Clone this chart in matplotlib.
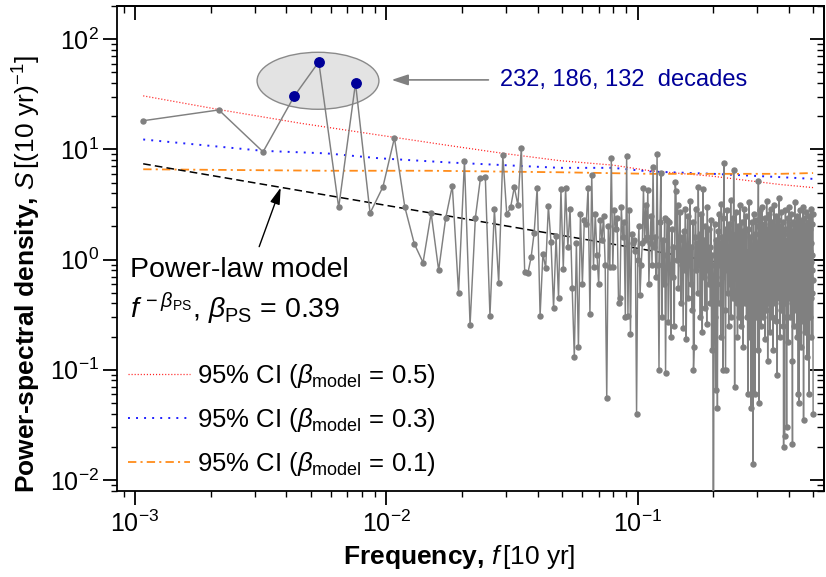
import numpy as np
import matplotlib.pyplot as plt
from matplotlib.patches import Ellipse
from matplotlib.ticker import NullFormatter

plt.rcParams['font.family'] = ['Liberation Sans', 'DejaVu Sans']
plt.rcParams['mathtext.fontset'] = 'custom'
plt.rcParams['mathtext.rm'] = 'Liberation Sans'
plt.rcParams['mathtext.it'] = 'Liberation Sans:italic'
plt.rcParams['mathtext.bf'] = 'Liberation Sans:bold'
plt.rcParams['lines.scale_dashes'] = False

# periodogram of a 928-decade record, frequencies k/928 (k = 1..464)
n_record = 928
psd = [
    18.2, 22.8, 9.5, 30.6, 62.2, 2.97, 39.9, 2.64, 4.57, 12.7,
    3.0, 1.39, 0.94, 2.64, 0.80, 2.38, 4.67, 0.50, 7.8, 0.255,
    2.4, 5.5, 5.66, 0.31, 2.85, 0.615, 8.85, 2.58, 2.97, 4.54,
    3.12, 10.4, 0.77, 0.76, 1.05, 1.76, 4.48, 0.31, 1.13, 0.84,
    3.07, 1.43, 0.36, 1.63, 0.45, 4.35, 0.83, 4.5, 1.3, 2.9,
    0.55, 0.13, 1.4, 0.16, 2.6, 0.6, 2.3, 2.1, 4.5, 0.32,
    5.9, 0.85, 2.6, 1.1, 0.6, 2.3, 1.5, 2.5, 0.9, 0.055,
    2.0, 0.85, 8.4, 0.86, 2.8, 1.9, 2.4, 0.4, 0.45, 3.0,
    1.6, 2.2, 0.3, 8.8, 0.31, 2.8, 0.21, 1.7, 1.4, 1.5,
    1.2, 0.04, 1.0, 2.0, 0.48, 0.9, 1.4, 4.5, 1.5, 3.1,
    1.6, 4.3, 0.6, 1.4, 2.5, 0.9, 6.9, 1.3, 1.6, 0.7,
    9.1, 0.9, 0.1, 2.2, 6.1, 0.3, 1.5, 0.6, 2.4, 0.093,
    1.1, 2.3, 0.27, 2.2, 0.9, 0.2, 1.9, 0.7, 1.3, 0.25,
    5.1, 4.2, 1.0, 3.1, 0.55, 1.5, 2.7, 0.4, 0.9, 1.6,
    0.24, 1.8, 0.8, 2.9, 0.19, 1.2, 2.5, 0.45, 1.0, 3.4,
    0.6, 1.3, 0.35, 2.2, 0.1, 0.16, 1.6, 2.9, 0.8, 1.4,
    0.5, 4.6, 0.9, 1.7, 0.3, 2.6, 1.1, 0.22, 4.4, 0.7,
    1.5, 0.36, 2.0, 1.2, 0.26, 3.0, 0.8, 1.9, 0.6, 1.3,
    0.4, 2.3, 0.15, 1.1, 0.5, 0.0001, 0.9, 2.1, 0.3, 0.065,
    1.5, 0.6, 0.045, 1.8, 0.4, 2.6, 0.9, 1.4, 0.2, 3.2,
    0.7, 1.6, 0.1, 2.4, 7.6, 1.2, 0.35, 0.1, 1.9, 0.8,
    2.8, 0.5, 1.3, 0.25, 2.1, 1.0, 0.6, 3.5, 0.3, 1.7,
    0.9, 2.4, 0.45, 6.5, 1.1, 0.07, 1.6, 0.7, 2.7, 0.4,
    1.2, 0.2, 2.0, 0.85, 1.5, 0.3, 3.1, 0.6, 1.0, 0.25,
    2.2, 0.5, 1.4, 0.16, 1.8, 0.9, 2.9, 0.4, 1.2, 0.65,
    2.5, 0.3, 1.1, 0.8, 0.06, 1.9, 0.5, 3.3, 0.9, 0.2,
    1.6, 0.7, 0.045, 2.2, 0.35, 1.3, 0.014, 0.8, 2.6, 0.4,
    1.0, 0.06, 1.7, 0.55, 2.3, 0.3, 1.4, 0.9, 0.15, 2.0,
    5.2, 0.7, 0.05, 1.5, 0.4, 2.8, 1.1, 0.25, 1.8, 0.6,
    3.0, 0.9, 0.3, 1.3, 2.1, 0.5, 1.0, 0.19, 2.4, 0.8,
    1.5, 0.35, 3.4, 0.7, 1.2, 0.12, 1.9, 0.6, 2.6, 0.4,
    1.1, 0.9, 0.22, 1.7, 2.9, 0.5, 1.3, 0.3, 2.2, 0.8,
    0.15, 1.6, 0.65, 3.1, 1.0, 0.4, 2.0, 0.75, 1.4, 0.28,
    2.5, 0.55, 1.2, 0.09, 1.8, 0.7, 2.3, 0.45, 1.1, 3.6,
    0.6, 1.5, 0.2, 2.0, 0.9, 0.35, 2.7, 1.0, 0.5, 1.6,
    0.25, 2.2, 0.8, 0.02, 1.3, 0.6, 0.025, 1.9, 0.4, 2.8,
    0.7, 1.2, 0.3, 0.03, 1.5, 0.55, 2.4, 0.85, 0.18, 1.7,
    1.0, 3.0, 0.45, 1.3, 0.65, 2.1, 0.3, 1.1, 0.8, 2.6,
    0.4, 1.4, 0.12, 0.021, 1.8, 0.6, 2.2, 0.9, 0.25, 1.5,
    0.7, 3.3, 0.5, 1.2, 0.35, 2.0, 0.85, 1.6, 0.2, 2.5,
    0.6, 1.1, 0.4, 1.9, 0.06, 0.9, 0.05, 2.3, 0.7, 1.4,
    0.3, 2.8, 0.55, 1.0, 0.16, 1.7, 0.8, 2.1, 0.45, 1.3,
    0.65, 3.0, 0.28, 1.2, 0.035, 1.6, 0.5, 2.4, 0.9, 0.22,
    1.5, 0.75, 2.0, 0.4, 1.1, 2.7, 0.6, 1.3, 0.13, 1.8,
    0.85, 2.2, 0.35, 1.0, 1.6, 0.55, 0.06, 2.5, 0.7, 1.2,
    0.3, 1.9, 0.95, 2.9, 0.45, 1.4, 0.2, 2.1, 0.8, 1.1,
    0.5, 2.6, 0.65, 0.04,
]
freq = np.arange(1, len(psd) + 1) / n_record
psd = np.array(psd)

# harmonics of the 232, 186 and 132 decade cycles
peak_k = [4, 5, 7]

# 95% confidence limits from the simulated power-law series
ci05_f = [0.001078, 0.002155, 0.00453, 0.01066, 0.01795, 0.02923, 0.04903, 0.0797, 0.1121, 0.2, 0.3696, 0.5]
ci05_s = [30.6, 23.0, 17.3, 12.9, 10.8, 9.2, 7.9, 7.2, 6.4, 5.7, 4.8, 4.5]
ci03_f = [0.001078, 0.00323, 0.00578, 0.0094, 0.0179, 0.049, 0.0797, 0.1121, 0.2, 0.3696, 0.5]
ci03_s = [12.3, 9.7, 9.2, 8.3, 7.6, 6.8, 6.8, 6.3, 6.0, 5.6, 5.4]
ci01_f = [0.001078, 0.00578, 0.0149, 0.049, 0.1121, 0.3696, 0.5]
ci01_s = [6.6, 6.4, 6.4, 6.2, 6.0, 6.0, 6.1]

beta_ps = 0.39
amp_ps = 0.515

fig = plt.figure(figsize=(8.26, 5.77), dpi=100)
ax = fig.add_axes([0.142, 0.1496, 0.855, 0.840])
ax.set_xscale('log')
ax.set_yscale('log')
ax.set_xlim(8.5e-4, 0.55)
ax.set_ylim(0.008, 200)

ell = Ellipse((0.2842, 0.8457), 0.1725, 0.1176, transform=ax.transAxes,
              facecolor='#e3e3e3', edgecolor='#8a8a8a', lw=1.0, zorder=1)
ax.add_patch(ell)

ax.plot(ci05_f, ci05_s, color='#ff2020', lw=0.9, dashes=(0.8, 1.4), zorder=2,
        label=r'95% CI ($\beta_{\mathrm{model}}$ = 0.5)')
ax.plot(ci03_f, ci03_s, color='#2020ff', lw=1.4, dashes=(1.4, 4.4), zorder=2,
        label=r'95% CI ($\beta_{\mathrm{model}}$ = 0.3)')
ax.plot(ci01_f, ci01_s, color='#ff8c1a', lw=1.3, dashes=(6, 3, 1.5, 3), zorder=2,
        label=r'95% CI ($\beta_{\mathrm{model}}$ = 0.1)')

fm = freq[[0, -1]]
ax.plot(fm, amp_ps * fm ** -beta_ps, color='black', lw=1.1, dashes=(5.5, 3), zorder=2)

ax.plot(freq, psd, '-o', color='#808080', lw=1.05, ms=3.6, zorder=3)
pk = np.array(peak_k) - 1
ax.plot(freq[pk], psd[pk], 'o', color='#000099', ms=6.8, zorder=4)

ax.annotate('', xy=(0.0105, 42.7), xytext=(0.0255, 42.7),
            arrowprops=dict(arrowstyle='-|>,head_length=1.0,head_width=0.33',
                            mutation_scale=10, color='#808080', lw=1.2,
                            shrinkA=0, shrinkB=0))
ax.text(0.0284, 42.7, '232, 186, 132  decades', color='#000099', fontsize=17,
        va='center', ha='left')

ax.annotate('', xy=(0.0038, 4.5), xytext=(0.00312, 1.31),
            arrowprops=dict(arrowstyle='-|>,head_length=1.0,head_width=0.3',
                            mutation_scale=10, color='black', lw=1.0,
                            shrinkA=0, shrinkB=0))
ax.text(0.000958, 0.70, 'Power-law model', fontsize=20.5, va='baseline', ha='left')
ax.text(0.000958, 0.296, r'$f^{\,-\beta_{\mathrm{PS}}}$, $\beta_{\mathrm{PS}}$ = 0.39',
        fontsize=20.5, va='baseline', ha='left')

ax.legend(loc='upper left', bbox_to_anchor=(0.0152, 0.2645), frameon=False,
          fontsize=18.5, handlelength=2.41, handletextpad=0.26,
          labelspacing=0.62, borderpad=0, borderaxespad=0)

for s in ax.spines.values():
    s.set_linewidth(1.3)
ax.tick_params(which='major', direction='out', length=10, width=1.3, labelsize=18, pad=3)
ax.tick_params(which='minor', direction='out', length=4.6, width=1.0)
ax.tick_params(axis='x', which='major', pad=4)

top = ax.secondary_xaxis('top')
right = ax.secondary_yaxis('right')
for sec, axis in ((top, top.xaxis), (right, right.yaxis)):
    sec.tick_params(which='major', direction='in', length=10, width=1.3)
    sec.tick_params(which='minor', direction='in', length=5, width=1.0)
    axis.set_major_formatter(NullFormatter())
    axis.set_minor_formatter(NullFormatter())
    for s in sec.spines.values():
        s.set_linewidth(1.3)

ax.set_xlabel(r'Frequency, $f\,[10\ \mathrm{yr}]$', fontsize=19, fontweight='bold')
ax.set_ylabel(r'Power-spectral density, $S\,[(10\ \mathrm{yr})^{-1}]$', fontsize=19,
              fontweight='bold')
ax.xaxis.set_label_coords(0.484, -0.108)
ax.yaxis.set_label_coords(-0.105, 0.447)

fig.savefig('out.png', dpi=100)
